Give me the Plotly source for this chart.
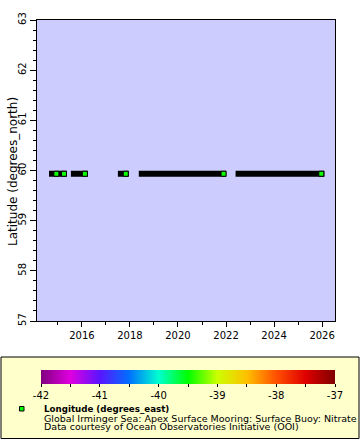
import plotly.graph_objects as go

# ---------------- data ----------------
lat_value = 59.935
seg_start = ["2014-08-18", "2015-07-17", "2017-07-01", "2018-05-15", "2022-05-26"]
seg_end = ["2015-05-18", "2016-04-01", "2017-12-14", "2022-01-05", "2026-02-05"]
pt_time = ["2014-12-09", "2015-04-03", "2016-02-15", "2017-10-29", "2021-11-24", "2025-12-20"]
pt_lon = [-39.47, -39.47, -39.47, -39.47, -39.47, -39.47]
cbar_ticks = [-42, -41.5, -41, -40.5, -40, -39.5, -39, -38.5, -38, -37.5, -37]
cbar_labels = ["-42", "", "-41", "", "-40", "", "-39", "", "-38", "", "-37"]
legend_title = "Longitude (degrees_east)"
legend_line2 = "Global Irminger Sea: Apex Surface Mooring: Surface Buoy: Nitrate"
legend_line3 = "Data courtesy of Ocean Observatories Initiative (OOI)"

# ---------------- layout helpers ----------------
W, H = 360, 440
L, R, T, B = 37, 335, 20, 321


def px(x):
    return (x - L) / (R - L)


def py(y):
    return (B - y) / (B - T)


FONT = "DejaVu Sans"
cscale = [[0, "#800080"], [0.1, "#e000e0"], [0.2, "#5a14ff"], [0.3, "#0070ff"],
          [0.4, "#00ffd0"], [0.5, "#00ff00"], [0.6, "#ccff00"], [0.7, "#ffc000"],
          [0.8, "#ff5000"], [0.9, "#e00000"], [1, "#800000"]]

seg_x, seg_y = [], []
for s, e in zip(seg_start, seg_end):
    seg_x += [s, e, None]
    seg_y += [lat_value, lat_value, None]

fig = go.Figure()
fig.add_trace(go.Scatter(x=seg_x, y=seg_y, mode="lines",
                         line=dict(color="black", width=6), hoverinfo="skip",
                         showlegend=False))
fig.add_trace(go.Scatter(
    x=pt_time, y=[lat_value] * len(pt_time), mode="markers", showlegend=False,
    marker=dict(symbol="square", size=5, color=pt_lon, colorscale=cscale,
                cmin=-42, cmax=-37, line=dict(color="black", width=1),
                showscale=True,
                colorbar=dict(orientation="h", x=px(41), xanchor="left",
                              y=py(370), yanchor="top", len=294, lenmode="pixels",
                              thickness=14, thicknessmode="pixels", outlinewidth=0,
                              xpad=0, ypad=0, ticks="outside", ticklen=3,
                              tickcolor="black", tickvals=cbar_ticks,
                              ticktext=cbar_labels,
                              tickfont=dict(family=FONT, size=10, color="black"))),
))

# legend box
fig.add_shape(type="rect", xref="paper", yref="paper", x0=px(1), x1=px(359),
              y0=py(357), y1=py(438.5), fillcolor="#ffffcc",
              line=dict(color="black", width=1), layer="below")
fig.add_shape(type="rect", xref="paper", yref="paper", x0=px(19.5), x1=px(24),
              y0=py(406.5), y1=py(411), fillcolor="#00ff00",
              line=dict(color="black", width=1))

fig.add_annotation(text="<b>" + legend_title + "</b>", xref="paper", yref="paper",
                   x=px(42), y=py(409), xanchor="left", yanchor="middle",
                   showarrow=False, font=dict(family=FONT, size=8.7, color="black"))
fig.add_annotation(text=legend_line2, xref="paper", yref="paper",
                   x=px(42), y=py(418), xanchor="left", yanchor="middle",
                   showarrow=False, font=dict(family=FONT, size=9.5, color="black"))
fig.add_annotation(text=legend_line3, xref="paper", yref="paper",
                   x=px(42), y=py(427), xanchor="left", yanchor="middle",
                   showarrow=False, font=dict(family=FONT, size=9.5, color="black"))
fig.add_annotation(text="Latitude (degrees_north)", xref="paper", yref="paper",
                   x=px(13), y=py(172), xanchor="center", yanchor="middle",
                   textangle=-90, showarrow=False,
                   font=dict(family=FONT, size=12, color="black"))

fig.update_layout(
    width=W, height=H, margin=dict(l=L, r=W - R, t=T, b=H - B),
    paper_bgcolor="white", plot_bgcolor="#ccccff",
    font=dict(family=FONT, size=10, color="black"),
    xaxis=dict(type="date", range=["2014-02-17", "2026-07-16"], showgrid=False,
               zeroline=False, showline=True, linecolor="black", linewidth=1,
               mirror=True, ticks="outside", ticklen=5, tickcolor="black",
               tick0="2016-01-01", dtick="M24", tickformat="%Y",
               tickfont=dict(family=FONT, size=10),
               minor=dict(ticks="outside", ticklen=3, dtick="M12",
                          tick0="2016-01-01", tickcolor="black")),
    yaxis=dict(range=[57, 63], showgrid=False, zeroline=False, showline=True,
               linecolor="black", linewidth=1, mirror=True, ticks="outside",
               ticklen=6, tickcolor="black", dtick=1, tickangle=-90,
               tickfont=dict(family=FONT, size=10),
               minor=dict(ticks="outside", ticklen=3, dtick=0.2,
                          tickcolor="black")),
)

fig.write_html("out.html", config={"displayModeBar": False},
               post_script="document.body.style.margin='0';document.body.style.overflow='hidden';")
